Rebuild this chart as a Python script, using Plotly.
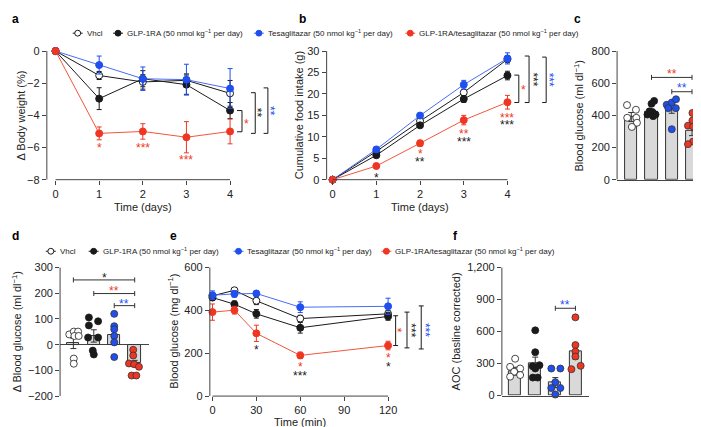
import plotly.graph_objects as go
from plotly.subplots import make_subplots

W, H = 701, 427
FONT = "Liberation Sans, Arial, Helvetica, sans-serif"

RED = "#EF3623"
BLUE = "#1F4FEF"
BLACK = "#1A1A1A"
AXIS = "#444444"
BAR_FILL = "#D9D9D9"

GROUPS = [
    "Vhcl",
    "GLP-1RA (50 nmol kg<sup>−1</sup> per day)",
    "Tesaglitazar (50 nmol kg<sup>−1</sup> per day)",
    "GLP-1RA/tesaglitazar (50 nmol kg<sup>−1</sup> per day)",
]

# ---- a: body weight change (%)
days = [0, 1, 2, 3, 4]
bw_vhcl = [0, -1.52, -1.92, -1.82, -2.63]
bw_vhcl_err = [0, 0.25, 0.45, 0.4, 0.8]
bw_glp = [0, -2.96, -1.72, -2.09, -3.70]
bw_glp_err = [0, 0.68, 0.5, 0.6, 0.5]
bw_tesa = [0, -0.87, -1.72, -1.78, -2.33]
bw_tesa_err = [0, 0.56, 0.73, 0.96, 1.24]
bw_combo = [0, -5.12, -5.0, -5.36, -5.0]
bw_combo_err = [0, 0.4, 0.48, 0.97, 0.77]

# ---- b: cumulative food intake (g)
fi_vhcl = [0, 6.6, 13.67, 20.35, 28.1]
fi_vhcl_err = [0, 0.3, 0.4, 0.5, 0.8]
fi_glp = [0, 5.7, 12.68, 18.83, 24.3]
fi_glp_err = [0, 0.3, 0.5, 0.8, 1.0]
fi_tesa = [0, 7.06, 14.96, 22.17, 28.3]
fi_tesa_err = [0, 0.3, 0.5, 1.0, 1.3]
fi_combo = [0, 3.19, 8.5, 13.9, 18.07]
fi_combo_err = [0, 0.3, 0.7, 1.1, 1.6]

# ---- c: blood glucose
c_means = [390, 425, 441, 304]
c_err = [28, 15, 28, 30]
c_points = [
    [464, 435, 385, 385, 354, 328],
    [490, 472, 425, 419, 405, 405, 395],
    [466, 480, 500, 445, 445, 314],
    [415, 368, 336, 330, 237, 233, 221],
]

# ---- d: change in blood glucose
d_means = [5, 34, 38, -71]
d_err = [20, 24, 22, 10]
d_points = [
    [40, 51, 51, 34, 34, -54, -74],
    [106, 91, 75, 28, 28, -23, -38],
    [120, 72, 60, 34, 9, -48],
    [-20, -42, -73, -76, -86, -120, -120],
]

# ---- e: blood glucose time course
minutes = [0, 15, 30, 60, 120]
e_vhcl = [468, 494, 445, 362, 384]
e_vhcl_err = [12, 10, 18, 15, 15]
e_glp = [460, 429, 384, 319, 372]
e_glp_err = [12, 15, 20, 25, 18]
e_tesa = [471, 477, 479, 415, 419]
e_tesa_err = [20, 15, 12, 25, 38]
e_combo = [392, 401, 293, 190, 236]
e_combo_err = [38, 18, 38, 15, 20]

# ---- f: AOC
f_means = [228, 299, 122, 412]
f_err = [37, 61, 46, 70]
f_points = [
    [345, 269, 253, 223, 192, 177],
    [611, 406, 284, 275, 253, 168, 168],
    [253, 253, 125, 70, 70, 9],
    [733, 473, 412, 366, 247, 278],
]

# horizontal scatter of the dots inside each bar (layout only)
c_dx = [
    [-0.21, 0.23, -0.2, 0.25, 0.28, 0.03],
    [0.13, 0.0, -0.1, 0.05, -0.2, 0.2, 0.08],
    [-0.25, 0.0, 0.21, -0.17, 0.2, 0.0],
    [0.02, 0.02, -0.2, 0.05, 0.05, 0.25, -0.2],
]
d_dx = [
    [-0.2, 0.02, 0.23, 0.05, 0.26, 0.02, 0.02],
    [-0.24, 0.21, -0.24, -0.28, 0.21, -0.05, 0.0],
    [0, 0, 0, 0, 0, 0],
    [-0.07, -0.07, -0.28, -0.03, 0.21, -0.15, 0.08],
]
f_dx = [
    [0.0, -0.25, 0.25, -0.05, 0.25, -0.25],
    [0.0, 0.0, 0.21, -0.13, 0.0, -0.12, 0.12],
    [-0.2, 0.25, 0.0, -0.2, 0.25, 0.0],
    [0.0, 0.0, 0.0, 0.0, -0.2, 0.26],
]


def px_x(x):
    return x / W


def px_y(y):
    return 1 - y / H


fig = make_subplots(rows=2, cols=3)

# panel -> (x px span, y px span, x range, y range)
PANELS = {
    1: ((39, 227.4), (35.06, 171.7), [-0.2, 4.1], [-8, 0.3]),
    2: ((320, 506), (37.4, 171.7), [-0.137, 4.1], [0, 30.6]),
    3: ((611.7, 701), (36.7, 171.7), [-0.7, 3.69], [0, 820]),
    4: ((52.3, 142), (259.1, 393.3), [-0.65, 3.72], [-200, 310]),
    5: ((202.7, 387.6), (258.4, 393.3), [-1.8, 124], [0, 615]),
    6: ((496, 583), (258.4, 392.7), [-0.66, 3.65], [0, 1230]),
}


def ax_name(letter, i):
    return f"{letter}axis" if i == 1 else f"{letter}axis{i}"


def ref(letter, i):
    return letter if i == 1 else f"{letter}{i}"


tick_style = dict(
    ticks="outside", ticklen=4, tickwidth=1, tickcolor=AXIS,
    tickfont=dict(size=11, color="#222"), showgrid=False, zeroline=False,
    showline=False,
)

for i, ((x0, x1), (y0, y1), xr, yr) in PANELS.items():
    fig.layout[ax_name("x", i)].update(domain=[px_x(x0), px_x(x1)], range=xr, **tick_style)
    fig.layout[ax_name("y", i)].update(domain=[px_y(y1), px_y(y0)], range=yr, **tick_style)

fig.update_layout(
    xaxis=dict(tickvals=days), yaxis=dict(tickvals=[0, -2, -4, -6, -8]),
    xaxis2=dict(tickvals=days), yaxis2=dict(tickvals=[0, 5, 10, 15, 20, 25, 30]),
    xaxis3=dict(showticklabels=False, ticks="", showline=True, linecolor=AXIS, linewidth=1),
    yaxis3=dict(tickvals=[0, 200, 400, 600, 800]),
    xaxis4=dict(showticklabels=False, ticks=""),
    yaxis4=dict(tickvals=[-200, -100, 0, 100, 200, 300], zeroline=True,
                zerolinecolor=AXIS, zerolinewidth=1),
    xaxis5=dict(tickvals=[0, 30, 60, 90, 120]),
    yaxis5=dict(tickvals=[0, 200, 400, 600]),
    xaxis6=dict(showticklabels=False, ticks="", showline=True, linecolor=AXIS, linewidth=1),
    yaxis6=dict(tickvals=[0, 300, 600, 900, 1200], tickformat=","),
)

# (edge colour, fill colour, line colour) per group
STYLES = [
    (BLACK, "white", BLACK),
    (BLACK, BLACK, BLACK),
    (BLUE, BLUE, "#4A6CF5"),
    (RED, RED, "#F2563C"),
]


def add_lines(i, x, series):
    for k, (y, err) in enumerate(series):
        col, fill, lc = STYLES[k]
        fig.add_trace(go.Scatter(
            x=x, y=y, mode="lines+markers", name=GROUPS[k],
            line=dict(color=lc, width=1),
            marker=dict(size=7, color=fill, line=dict(color=col, width=1)),
            error_y=dict(type="data", array=err, color=col, thickness=1, width=2.5),
            showlegend=False, xaxis=ref("x", i), yaxis=ref("y", i), cliponaxis=False,
        ))


def add_bars(i, means, err, points, dx):
    fig.add_trace(go.Bar(
        x=[0, 1, 2, 3], y=means, width=0.6,
        marker=dict(color=BAR_FILL, line=dict(color="#333", width=1)),
        error_y=dict(type="data", array=err, color="#333", thickness=1, width=3),
        showlegend=False, xaxis=ref("x", i), yaxis=ref("y", i),
    ))
    for k, vals in enumerate(points):
        col, fill, _ = STYLES[k]
        edge = BLACK if k < 2 else "#333"
        fig.add_trace(go.Scatter(
            x=[k + d for d in dx[k]], y=vals, mode="markers", name=GROUPS[k],
            marker=dict(size=7, color=fill, line=dict(color=edge, width=0.8)),
            showlegend=False, xaxis=ref("x", i), yaxis=ref("y", i), cliponaxis=False,
        ))


add_lines(1, days, [(bw_vhcl, bw_vhcl_err), (bw_glp, bw_glp_err),
                    (bw_tesa, bw_tesa_err), (bw_combo, bw_combo_err)])
add_lines(2, days, [(fi_vhcl, fi_vhcl_err), (fi_glp, fi_glp_err),
                    (fi_tesa, fi_tesa_err), (fi_combo, fi_combo_err)])
add_bars(3, c_means, c_err, c_points, c_dx)
add_bars(4, d_means, d_err, d_points, d_dx)
add_lines(5, minutes, [(e_vhcl, e_vhcl_err), (e_glp, e_glp_err),
                       (e_tesa, e_tesa_err), (e_combo, e_combo_err)])
add_bars(6, f_means, f_err, f_points, f_dx)

shapes = []
ann = []
line_st = dict(color=AXIS, width=1)

# detached axis lines
for i, ylo, yhi, xlo, xhi in [(1, -8, 0, 0, 4), (2, 0, 30, 0, 4), (5, 0, 600, 0, 120)]:
    shapes.append(dict(type="line", xref=f"{ref('x', i)} domain", yref=ref("y", i),
                       x0=0, x1=0, y0=ylo, y1=yhi, line=line_st))
    shapes.append(dict(type="line", xref=ref("x", i), yref=f"{ref('y', i)} domain",
                       x0=xlo, x1=xhi, y0=0, y1=0, line=line_st))
for i, ylo, yhi in [(3, 0, 800), (4, -200, 300), (6, 0, 1200)]:
    shapes.append(dict(type="line", xref=f"{ref('x', i)} domain", yref=ref("y", i),
                       x0=0, x1=0, y0=ylo, y1=yhi, line=line_st))


def vbracket(i, xl, xr, ytop, ybot):
    # "]" bracket right of the plot, x in pixels
    shapes.append(dict(type="path", xref="paper", yref=ref("y", i),
                       path=f"M{px_x(xl)},{ytop} L{px_x(xr)},{ytop} L{px_x(xr)},{ybot} L{px_x(xl)},{ybot}",
                       line=dict(color=BLACK, width=1)))


def ibracket(i, xp, ytop, ybot):
    for yy in (ytop, ybot):
        shapes.append(dict(type="line", xref="paper", yref=ref("y", i),
                           x0=px_x(xp - 2.5), x1=px_x(xp + 2.5), y0=yy, y1=yy,
                           line=dict(color=BLACK, width=1)))
    shapes.append(dict(type="line", xref="paper", yref=ref("y", i),
                       x0=px_x(xp), x1=px_x(xp), y0=ytop, y1=ybot,
                       line=dict(color=BLACK, width=1)))


def hbracket(i, xa, xb, yy):
    shapes.append(dict(type="line", xref=ref("x", i), yref=ref("y", i),
                       x0=xa, x1=xb, y0=yy, y1=yy, line=dict(color="#333", width=1)))
    for xx in (xa, xb):
        shapes.append(dict(type="line", xref=ref("x", i), yref=ref("y", i),
                           ysizemode="pixel", yanchor=yy, x0=xx, x1=xx, y0=-2.5, y1=2.5,
                           line=dict(color="#333", width=1)))


def star(text, x, y, color, i, paper_x=False, angle=0):
    a = dict(text=text, x=px_x(x) if paper_x else x, y=y,
             xref="paper" if paper_x else ref("x", i), yref=ref("y", i),
             showarrow=False, font=dict(size=12, color=color),
             xanchor="center", yanchor="middle", textangle=angle)
    if angle:
        a["xshift"] = -3
    else:
        a["yshift"] = -3
    ann.append(a)


# a
vbracket(1, 230, 235, -3.70, -5.02)
vbracket(1, 244, 248.3, -2.59, -5.12)
vbracket(1, 256.7, 261, -2.29, -5.12)
star("*", 240, -4.35, RED, 1, paper_x=True)
star("**", 253.3, -3.85, BLACK, 1, paper_x=True, angle=90)
star("**", 266.7, -3.7, BLUE, 1, paper_x=True, angle=90)
star("*", 1, -5.87, RED, 1)
star("***", 2, -5.83, RED, 1)
star("***", 3, -6.62, RED, 1)

# b
vbracket(2, 508.5, 513, 24.4, 18.0)
vbracket(2, 519, 523.3, 28.85, 18.0)
vbracket(2, 536.5, 540.5, 28.6, 18.0)
star("*", 517.5, 21.6, RED, 2, paper_x=True)
star("***", 530.7, 23.3, BLACK, 2, paper_x=True, angle=90)
star("***", 546.5, 23.3, BLUE, 2, paper_x=True, angle=90)
star("*", 1, 1.14, BLACK, 2)
star("*", 2, 6.6, RED, 2)
star("**", 2, 4.8, BLACK, 2)
star("**", 3, 11.4, RED, 2)
star("***", 3, 9.5, BLACK, 2)
star("***", 4, 15.2, RED, 2)
star("***", 4, 13.4, BLACK, 2)

# c
hbracket(3, 1, 3, 636)
hbracket(3, 2, 3, 547)
star("**", 2, 678, RED, 3)
star("**", 2.5, 587, BLUE, 3)

# d
hbracket(4, 0, 3, 252)
hbracket(4, 1, 3, 199)
hbracket(4, 2, 3, 152)
star("*", 1.5, 272, BLACK, 4)
star("**", 2, 222, RED, 4)
star("**", 2.5, 171, BLUE, 4)

# e
ibracket(5, 389.3, 375, 236)
ibracket(5, 400.7, 392, 225)
ibracket(5, 415, 421, 220)
star("*", 394, 308, RED, 5, paper_x=True, angle=90)
star("***", 407.5, 308, BLACK, 5, paper_x=True, angle=90)
star("***", 422, 308, BLUE, 5, paper_x=True, angle=90)
star("*", 30, 231, BLACK, 5)
star("*", 60, 152, RED, 5)
star("***", 60, 109, BLACK, 5)
star("*", 120, 193, RED, 5)
star("*", 120, 152, BLACK, 5)

# f
hbracket(6, 2, 3, 818)
star("**", 2.5, 879, BLUE, 6)

# compact legends (symbol = short line + dot, then label), x/y in pixels
LEGEND_ROWS = [
    (21.7, [70, 110.5, 252, 404]),
    (245, [43, 86, 231.5, 380]),
]
for ly, marks in LEGEND_ROWS:
    for k, mx in enumerate(marks):
        col, fill, lc = STYLES[k]
        shapes.append(dict(type="line", xref="paper", yref="paper",
                           x0=px_x(mx - 5), x1=px_x(mx + 5), y0=px_y(ly), y1=px_y(ly),
                           line=dict(color=lc, width=1)))
        shapes.append(dict(type="circle", xref="paper", yref="paper",
                           x0=px_x(mx - 3), x1=px_x(mx + 3), y0=px_y(ly + 3), y1=px_y(ly - 3),
                           fillcolor=fill, line=dict(color=col, width=1)))
        ann.append(dict(text=GROUPS[k], x=px_x(mx + 7), y=px_y(ly), xref="paper", yref="paper",
                        xanchor="left", yanchor="middle", showarrow=False,
                        font=dict(size=8, color="#222")))

# panel letters
for letter, x, y in [("a", 2, 7), ("b", 290, 7), ("c", 566, 7),
                     ("d", 2, 229), ("e", 161, 229), ("f", 445, 229)]:
    ann.append(dict(text=f"<b>{letter}</b>", x=px_x(x), y=px_y(y), xref="paper", yref="paper",
                    xanchor="left", yanchor="middle", showarrow=False,
                    font=dict(size=12, color="black")))

# axis titles
for text, x, y in [("Δ Body weight (%)", 13, 106),
                   ("Cumulative food intake (g)", 292, 106),
                   ("Blood glucose (ml dl<sup>−1</sup>)", 572.5, 106),
                   ("Δ Blood glucose (ml dl<sup>−1</sup>)", 9, 327),
                   ("Blood glucose (mg dl<sup>−1</sup>)", 166, 327),
                   ("AOC (basline corrected)", 450, 327)]:
    ann.append(dict(text=text, x=px_x(x), y=px_y(y), xref="paper", yref="paper",
                    xanchor="center", yanchor="middle", textangle=-90, showarrow=False,
                    font=dict(size=11, color="#222")))
for text, x, y in [("Time (days)", 135.5, 200), ("Time (days)", 413.5, 200),
                   ("Time (min)", 293, 420)]:
    ann.append(dict(text=text, x=px_x(x), y=px_y(y), xref="paper", yref="paper",
                    xanchor="center", yanchor="middle", showarrow=False,
                    font=dict(size=11, color="#222")))

fig.update_layout(
    width=W, height=H, margin=dict(l=0, r=0, t=0, b=0),
    paper_bgcolor="white", plot_bgcolor="white",
    font=dict(family=FONT, size=11, color="#222"),
    shapes=shapes, annotations=ann, bargap=0, showlegend=False,
)

fig.write_html("out.html")
